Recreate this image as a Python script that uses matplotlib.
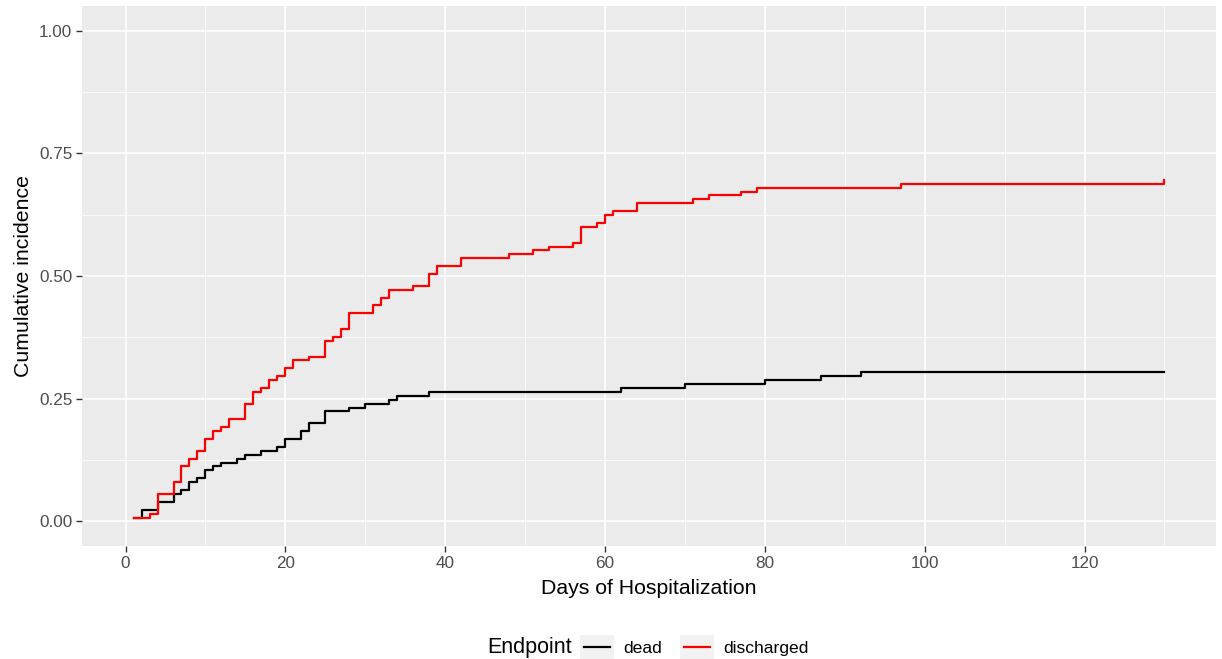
import matplotlib
matplotlib.use("Agg")
import matplotlib.pyplot as plt
from matplotlib.legend_handler import HandlerLine2D
from matplotlib.lines import Line2D
from matplotlib.patches import Rectangle

# step curves (time, cumulative incidence)
dead_days = [1, 2, 4, 6, 7, 8, 9, 10, 11, 12, 14, 15, 17, 19, 20, 22, 23, 25,
             28, 30, 33, 34, 38, 62, 70, 80, 87, 92, 130]
dead_cif = [0.008, 0.024, 0.040, 0.056, 0.064, 0.080, 0.088, 0.104, 0.112,
            0.120, 0.128, 0.136, 0.144, 0.152, 0.168, 0.184, 0.200, 0.224,
            0.232, 0.240, 0.248, 0.256, 0.264, 0.272, 0.280, 0.288, 0.296,
            0.304, 0.304]

disch_days = [1, 3, 4, 6, 7, 8, 9, 10, 11, 12, 13, 15, 16, 17, 18, 19, 20, 21,
              23, 25, 26, 27, 28, 31, 32, 33, 36, 38, 39, 42, 48, 51, 53, 56,
              57, 59, 60, 61, 64, 71, 73, 77, 79, 97, 130]
disch_cif = [0.008, 0.016, 0.056, 0.080, 0.112, 0.128, 0.144, 0.168, 0.184,
             0.192, 0.208, 0.240, 0.264, 0.272, 0.288, 0.296, 0.312, 0.328,
             0.336, 0.368, 0.376, 0.392, 0.424, 0.440, 0.456, 0.472, 0.480,
             0.504, 0.520, 0.536, 0.544, 0.552, 0.560, 0.568, 0.600, 0.608,
             0.624, 0.632, 0.648, 0.656, 0.664, 0.672, 0.680, 0.688, 0.696]

x_ticks = [0, 20, 40, 60, 80, 100, 120]
x_minor = [10, 30, 50, 70, 90, 110, 130]
y_ticks = [0.0, 0.25, 0.5, 0.75, 1.0]
y_minor = [0.125, 0.375, 0.625, 0.875]

plt.rcParams["font.family"] = ["Liberation Sans", "DejaVu Sans"]

W, H = 1222, 659
fig = plt.figure(figsize=(W / 100, H / 100), dpi=100)
ax = fig.add_axes([82 / W, 1 - 546 / H, (1216 - 82) / W, (546 - 6) / H])
ax.set_facecolor("#EBEBEB")
for s in ax.spines.values():
    s.set_visible(False)

for v in x_minor:
    ax.axvline(v, color="white", lw=0.55, zorder=0)
for v in y_minor:
    ax.axhline(v, color="white", lw=0.55, zorder=0)
for v in x_ticks:
    ax.axvline(v, color="white", lw=1.1, zorder=0)
for v in y_ticks:
    ax.axhline(v, color="white", lw=1.1, zorder=0)

ax.step(dead_days, dead_cif, where="post", color="black", lw=1.6, label="dead")
ax.step(disch_days, disch_cif, where="post", color="#FF0000", lw=1.6, label="discharged")

ax.set_xlim(-5.45, 136.45)
ax.set_ylim(-0.05, 1.05)
ax.set_xticks(x_ticks)
ax.set_yticks(y_ticks)
ax.set_yticklabels(["0.00", "0.25", "0.50", "0.75", "1.00"])
ax.tick_params(length=4, width=1.0, color="#333333", labelcolor="#4D4D4D",
               labelsize=12.3, pad=3)
ax.set_xlabel("Days of Hospitalization", fontsize=15.3, labelpad=6)
ax.set_ylabel("Cumulative incidence", fontsize=15.3, labelpad=4)


class KeyHandler(HandlerLine2D):
    def create_artists(self, legend, orig_handle, xdescent, ydescent,
                       width, height, fontsize, trans):
        box = Rectangle((-xdescent, -ydescent), width, height,
                        facecolor="#F2F2F2", edgecolor="none", transform=trans)
        y = -ydescent + height / 2
        ln = Line2D([-xdescent + 0.12 * width, -xdescent + 0.88 * width], [y, y],
                    color=orig_handle.get_color(), lw=orig_handle.get_linewidth(),
                    transform=trans)
        return [box, ln]


handles, labels = ax.get_legend_handles_labels()
fig.legend(handles, labels, ncol=2, loc="center left",
           bbox_to_anchor=(580 / W, 1 - 647 / H), frameon=False,
           fontsize=12.6, handlelength=1.95, handleheight=1.75,
           handletextpad=0.55, columnspacing=1.0, borderpad=0, borderaxespad=0,
           handler_map={Line2D: KeyHandler()})
fig.text(572 / W, 1 - 647 / H, "Endpoint", ha="right", va="center", fontsize=15.5)

fig.savefig("out.png", dpi=100)
